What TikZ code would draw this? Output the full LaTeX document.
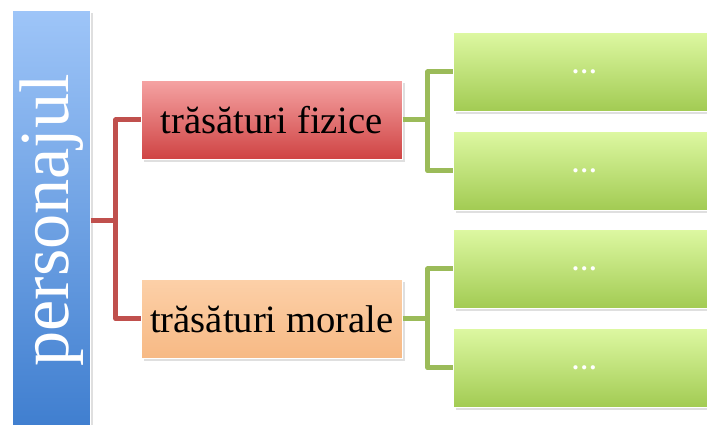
\documentclass[tikz,border=0pt]{standalone}
\usepackage{fontspec}
\setmainfont{Liberation Serif}
\usetikzlibrary{shadows}
\definecolor{bluetop}{HTML}{9EC5F8}
\definecolor{bluebot}{HTML}{3F7ECF}
\definecolor{redtop}{HTML}{F5A3A3}
\definecolor{redbot}{HTML}{CF4343}
\definecolor{orangetop}{HTML}{FCD0A8}
\definecolor{orangebot}{HTML}{F7B984}
\definecolor{greentop}{HTML}{DDF8A2}
\definecolor{greenbot}{HTML}{A2CB53}
\definecolor{redline}{HTML}{C0504D}
\definecolor{greenline}{HTML}{9BBB59}
\tikzset{
  box/.style={rectangle, inner sep=0pt, anchor=north west, draw=white, line width=0.6pt,
    drop shadow={opacity=0.25, shadow xshift=2pt, shadow yshift=-2pt}},
  level/.style={box, minimum width=261*0.03cm, minimum height=79*0.03cm, font=\fontsize{33}{33}\selectfont},
  leaf/.style={box, minimum width=262*0.03cm, minimum height=79*0.03cm, top color=greentop, bottom color=greenbot,
    text=white, font=\bfseries\fontsize{22}{22}\selectfont},
  redlink/.style={draw=redline, line width=4.2pt, line join=round},
  greenlink/.style={draw=greenline, line width=4.2pt, line join=round},
}

\begin{document}
\begin{tikzpicture}[x=0.03cm,y=-0.03cm]
  \clip (0,0) rectangle (707,425);
  \fill[white] (0,0) rectangle (707,425);
  \def\gapx{25}

  % root
  \node[box, minimum width=78*0.03cm, minimum height=420*0.03cm, top color=bluetop, bottom color=bluebot,
    text=white, font=\fontsize{60}{60}\selectfont] (pers) at (12,10) {\rotatebox{90}{personajul}};

  % trasaturi
  \node[level, top color=redtop, bottom color=redbot] (fiz) at (141,80) {trăsături fizice};
  \node[level, top color=orangetop, bottom color=orangebot] (mor) at (141,279) {trăsături morale};

  \draw[redlink] (pers.east) -- ++(\gapx,0) coordinate (rj) |- (fiz.west);
  \draw[redlink] (rj) |- (mor.west);

  % fizice -> ...
  \node[leaf] (f1) at (453,32) {\ldots};
  \node[leaf] (f2) at (453,131) {\ldots};
  \draw[greenlink] (fiz.east) -- ++(\gapx,0) coordinate (fj) |- (f1.west);
  \draw[greenlink] (fj) |- (f2.west);

  % morale -> ...
  \node[leaf] (m1) at (453,229) {\ldots};
  \node[leaf] (m2) at (453,328) {\ldots};
  \draw[greenlink] (mor.east) -- ++(\gapx,0) coordinate (mj) |- (m1.west);
  \draw[greenlink] (mj) |- (m2.west);
\end{tikzpicture}
\end{document}
